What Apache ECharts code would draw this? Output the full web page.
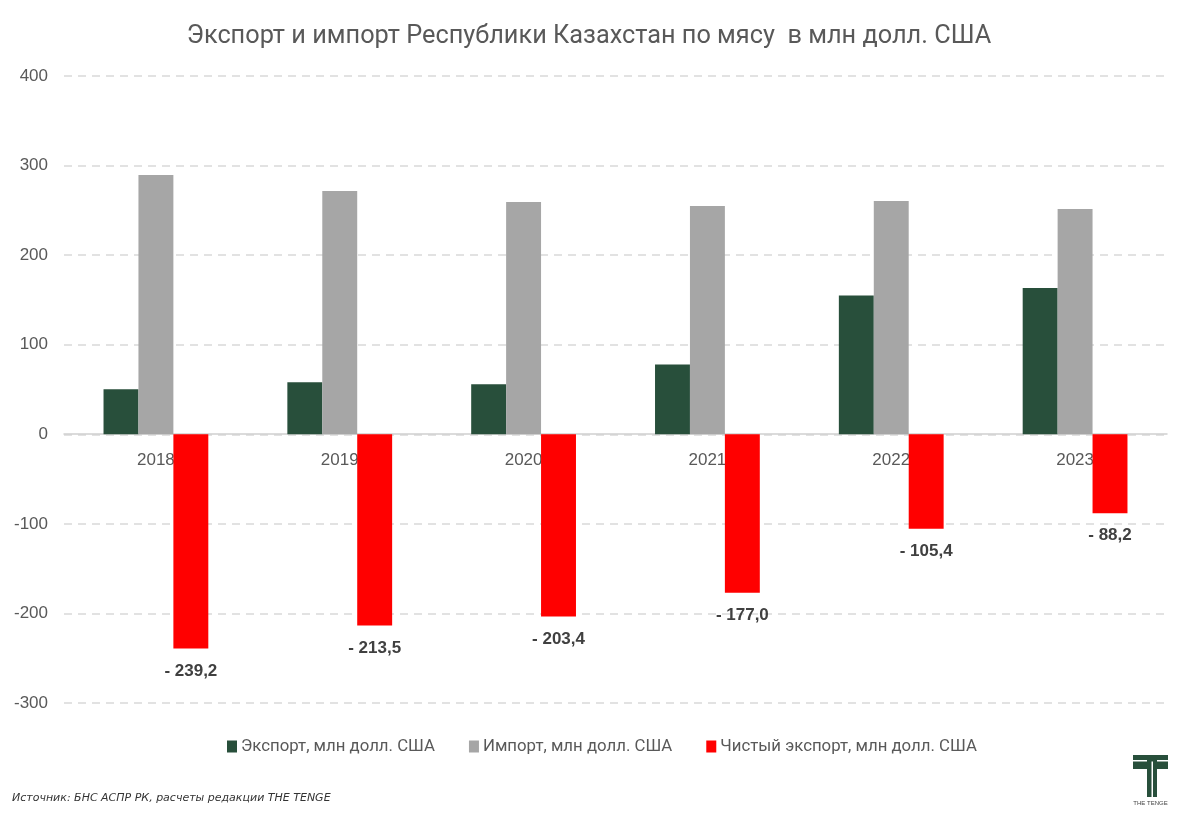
<!DOCTYPE html>
<html>
<head>
<meta charset="utf-8">
<script src="https://cdn.jsdelivr.net/npm/echarts@6/dist/echarts.min.js"></script>
<style>
html,body{margin:0;padding:0;background:#fff;}
#chart{width:1178px;height:814px;}
</style>
</head>
<body>
<div id="chart"></div>
<script>
var years = ['2018', '2019', '2020', '2021', '2022', '2023'];
var exportVals = [50.2, 58.0, 56.0, 78.0, 155.0, 163.2];
var importVals = [289.4, 271.5, 259.4, 255.0, 260.4, 251.4];
var netExportVals = [-239.2, -213.5, -203.4, -177.0, -105.4, -88.2];
var seriesNames = ['Экспорт, млн долл. США', 'Импорт, млн долл. США', 'Чистый экспорт, млн долл. США'];
var titleText = 'Экспорт и импорт Республики Казахстан по мясу  в млн долл. США';
var sourceText = 'Источник: БНС АСПР РК, расчеты редакции THE TENGE';

var chart = echarts.init(document.getElementById('chart'), null, {renderer: 'canvas'});
var green = '#284f3b', grey = '#a6a6a6', red = '#ff0000';

function fmtNet(p) {
  var v = p.value;
  var s = Math.abs(v).toFixed(1).replace('.', ',');
  return (v < 0 ? '- ' : '') + s;
}

var option = {
  backgroundColor: '#ffffff',
  animation: false,
  title: {
    text: titleText,
    left: 'center',
    top: 19,
    textStyle: {fontFamily: 'Roboto', fontSize: 25.3, fontWeight: 'normal', color: '#595959'}
  },
  legend: {
    data: seriesNames,
    left: 222,
    top: 733,
    itemWidth: 10,
    itemHeight: 12,
    itemGap: 34,
    icon: 'rect',
    textStyle: {fontFamily: 'Roboto', fontSize: 16.8, color: '#595959', padding: [0, 0, 0, -1]}
  },
  grid: {left: 64, right: 11, top: 76, bottom: 111, containLabel: false},
  xAxis: {
    type: 'category',
    data: years,
    position: 'bottom',
    offset: -269,
    axisLine: {onZero: false, lineStyle: {color: '#d0d0d0', width: 1.5}},
    axisTick: {show: false},
    axisLabel: {fontFamily: 'Liberation Sans', fontSize: 17, color: '#595959', margin: 18}
  },
  yAxis: {
    type: 'value',
    min: -300,
    max: 400,
    interval: 100,
    axisLine: {show: false},
    axisTick: {show: false},
    axisLabel: {fontFamily: 'Liberation Sans', fontSize: 17, color: '#595959', margin: 16},
    splitLine: {lineStyle: {color: '#d9d9d9', type: [8, 6], width: 1.5}}
  },
  series: [
    {name: seriesNames[0], type: 'bar', data: exportVals, barGap: '0%', barCategoryGap: '43%',
     itemStyle: {color: green}},
    {name: seriesNames[1], type: 'bar', data: importVals,
     itemStyle: {color: grey}},
    {name: seriesNames[2], type: 'bar', data: netExportVals,
     itemStyle: {color: red},
     label: {show: true, position: 'bottom', distance: 14, formatter: fmtNet,
             fontFamily: 'Liberation Sans', fontSize: 17, fontWeight: 'bold', color: '#404040'}}
  ],
  graphic: [
    {type: 'text', left: 12, top: 793,
     style: {text: sourceText, font: 'italic 11px "DejaVu Sans"', fill: '#333333'}},
    {type: 'group', left: 1133, top: 755, children: [
      {type: 'rect', shape: {x: 0, y: 0, width: 35, height: 14}, style: {fill: '#284f3b'}},
      {type: 'rect', shape: {x: 0, y: 5, width: 35, height: 1.5}, style: {fill: '#ffffff'}},
      {type: 'rect', shape: {x: 14, y: 0, width: 10, height: 42}, style: {fill: '#284f3b'}},
      {type: 'rect', shape: {x: 18.5, y: 6.5, width: 1.5, height: 36}, style: {fill: '#ffffff'}},
      {type: 'text', x: 17.5, y: 45, style: {text: 'THE TENGE', font: '6px "Liberation Sans"', fill: '#444', textAlign: 'center'}}
    ]}
  ]
};
chart.setOption(option);
</script>
</body>
</html>
